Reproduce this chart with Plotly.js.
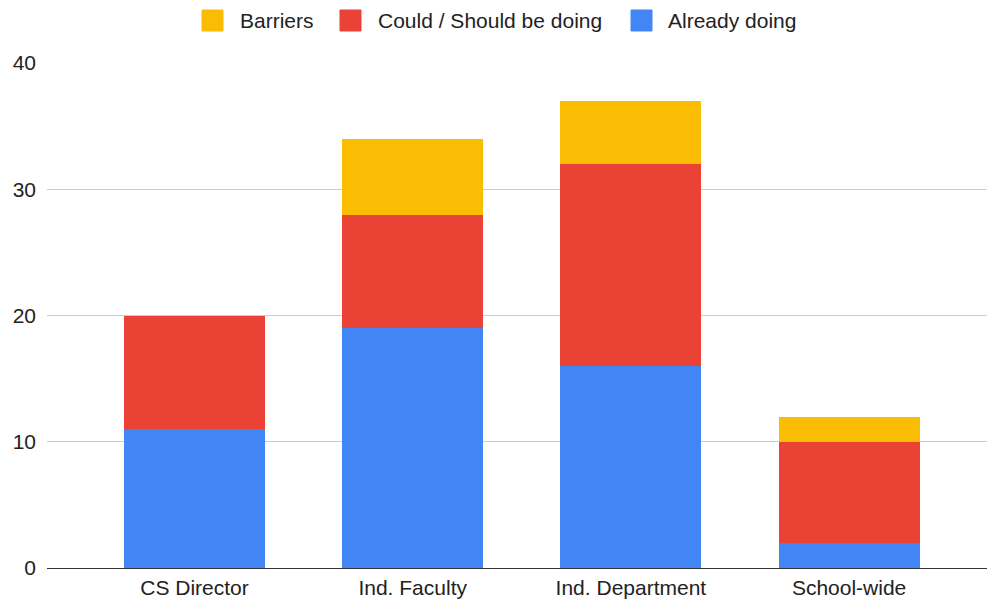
<!DOCTYPE html>
<html>
<head>
<meta charset="utf-8">
<script src="https://cdn.plot.ly/plotly-3.0.1.min.js"></script>
<style>html,body{margin:0;padding:0;background:#fff}#chart{width:987px;height:600px}</style>
</head>
<body>
<div id="chart"></div>
<script>
const categories = ["CS Director", "Ind. Faculty", "Ind. Department", "School-wide"];
const alreadyDoing = [11, 19, 16, 2];
const couldShould = [9, 9, 16, 8];
const barriers = [0, 6, 5, 2];
const seriesNames = ["Barriers", "Could / Should be doing", "Already doing"];
const seriesColors = ["#FBBC04", "#EA4335", "#4285F4"];
const yTicks = [0, 10, 20, 30, 40];

const W = 987, H = 600, ML = 47, MR = 0, MT = 63, MB = 32;
const px = x => (x - ML) / (W - ML - MR);
const py = y => (H - MB - y) / (H - MT - MB);
const FONT = "Liberation Sans, Arial, sans-serif";

const common = {type: "bar", x: categories, width: 0.646, showlegend: false, hoverinfo: "y+name"};
const traces = [
  Object.assign({}, common, {name: seriesNames[2], y: alreadyDoing, marker: {color: seriesColors[2]}}),
  Object.assign({}, common, {name: seriesNames[1], y: couldShould, marker: {color: seriesColors[1]}}),
  Object.assign({}, common, {name: seriesNames[0], y: barriers, marker: {color: seriesColors[0]}})
];

// custom legend (Google-Sheets style rounded squares)
const legendItems = [
  {sq: 202, tx: 238},
  {sq: 340, tx: 376},
  {sq: 631, tx: 666}
];
const shapes = [], annotations = [];
legendItems.forEach((it, i) => {
  shapes.push({type: "rect", xref: "paper", yref: "paper",
    x0: px(it.sq), x1: px(it.sq + 21), y0: py(31), y1: py(10),
    fillcolor: seriesColors[i], line: {width: 1, color: seriesColors[i]}});
  annotations.push({xref: "paper", yref: "paper", x: px(it.tx), y: py(21),
    xanchor: "left", yanchor: "middle", showarrow: false, text: seriesNames[i],
    font: {family: FONT, size: 21, color: "#222"}});
});

const layout = {
  width: W, height: H,
  margin: {l: ML, r: MR, t: MT, b: MB, pad: 0},
  paper_bgcolor: "#fff", plot_bgcolor: "#fff",
  barmode: "stack",
  font: {family: FONT, size: 21, color: "#222"},
  xaxis: {type: "category", range: [-0.676, 3.632], showgrid: false, ticks: "",
    showline: false, zeroline: false, ticklabelstandoff: 5, tickfont: {size: 21, color: "#222"}},
  yaxis: {range: [0, 40], tickvals: yTicks, ticktext: yTicks.map(String), showgrid: true,
    gridcolor: "#cccccc", gridwidth: 1, zeroline: true, zerolinecolor: "#333333", zerolinewidth: 1,
    ticks: "", showline: false, ticklabelstandoff: 10, tickfont: {size: 21, color: "#222"}},
  shapes: shapes,
  annotations: annotations
};
Plotly.newPlot("chart", traces, layout, {displayModeBar: false, staticPlot: true});
</script>
</body>
</html>
